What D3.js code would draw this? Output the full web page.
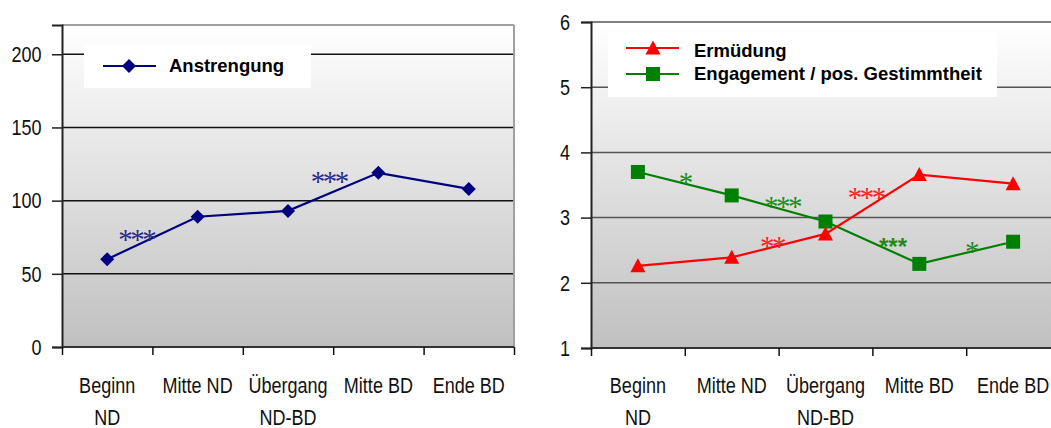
<!DOCTYPE html>
<html>
<head>
<meta charset="utf-8">
<script src="https://cdn.jsdelivr.net/npm/d3@7/dist/d3.min.js"></script>
<style>
  html, body { margin: 0; padding: 0; background: #ffffff; }
  svg { display: block; }
  .tick-label { font-family: "Liberation Sans", Arial, sans-serif; font-size: 22px; fill: #111; }
  .legend-label { font-family: "Liberation Sans", Arial, sans-serif; font-size: 18.5px; font-weight: bold; fill: #000; }
</style>
</head>
<body>
<svg id="chart" width="1051" height="428"></svg>
<script>
// ---------- data ----------
const categories = [["Beginn", "ND"], ["Mitte ND"], ["Übergang", "ND-BD"], ["Mitte BD"], ["Ende BD"]];
const anstrengung = [60, 89, 93, 119, 108];
const ermuedung = [2.26, 2.39, 2.75, 3.66, 3.52];
const engagement = [3.70, 3.34, 2.94, 2.29, 2.63];
const leftTicks = [0, 50, 100, 150, 200];
const rightTicks = [1, 2, 3, 4, 5, 6];
const leftSeriesName = "Anstrengung";
const rightSeriesNames = ["Ermüdung", "Engagement / pos. Gestimmtheit"];
// significance marks: position between categories (index units), value, label, series
const leftSig = [
  { pos: 0.32, value: 76, label: "***" },
  { pos: 2.45, value: 116, label: "***" }
];
const rightSig = [
  { pos: 0.50, value: 3.60, label: "*", series: "eng" },
  { pos: 1.535, value: 3.24, label: "***", series: "eng" },
  { pos: 2.72, value: 2.64, label: "***", series: "eng", sans: true },
  { pos: 3.55, value: 2.55, label: "*", series: "eng" },
  { pos: 1.43, value: 2.62, label: "**", series: "erm" },
  { pos: 2.43, value: 3.37, label: "***", series: "erm" }
];

// ---------- setup ----------
const NARROW = 0.82; // emulate a condensed face
const svg = d3.select("#chart");
const defs = svg.append("defs");
const grad = defs.append("linearGradient").attr("id", "bg").attr("x1", 0).attr("y1", 0).attr("x2", 0).attr("y2", 1);
grad.append("stop").attr("offset", "0%").attr("stop-color", "#ffffff");
grad.append("stop").attr("offset", "100%").attr("stop-color", "#c0c0c0");

function drawPanel(cfg) {
  const g = svg.append("g");
  const x = d3.scaleLinear().domain([-0.5, categories.length - 0.5]).range([cfg.left, cfg.right]);
  const y = d3.scaleLinear().domain(cfg.yDomain).range([cfg.bottom, cfg.top]);

  g.append("rect").attr("x", x(-0.5)).attr("y", y(cfg.yDomain[1]))
    .attr("width", x(categories.length - 0.5) - x(-0.5)).attr("height", y(cfg.yDomain[0]) - y(cfg.yDomain[1]))
    .attr("fill", "url(#bg)");

  g.selectAll(".grid").data(cfg.ticks.filter(t => t > cfg.yDomain[0] && t < cfg.yDomain[1]))
    .enter().append("line")
    .attr("x1", x(-0.5)).attr("x2", x(categories.length - 0.5))
    .attr("y1", d => y(d)).attr("y2", d => y(d))
    .attr("stroke", cfg.gridColor).attr("stroke-width", 1.5);

  g.append("line").attr("x1", x(-0.5)).attr("x2", x(categories.length - 0.5))
    .attr("y1", y(cfg.yDomain[1])).attr("y2", y(cfg.yDomain[1]))
    .attr("stroke", cfg.frameColor).attr("stroke-width", 2);
  g.append("line").attr("x1", x(categories.length - 0.5)).attr("x2", x(categories.length - 0.5))
    .attr("y1", y(cfg.yDomain[1])).attr("y2", y(cfg.yDomain[0]))
    .attr("stroke", cfg.frameColor).attr("stroke-width", 2);

  return { g, x, y };
}

function drawAxes(p, cfg) {
  const { g, x, y } = p;
  const yAxis = d3.axisLeft(y).tickValues(cfg.ticks).tickSize(10).tickFormat(d3.format("d"));
  const ya = g.append("g").attr("transform", `translate(${x(-0.5)},0)`).call(yAxis);
  ya.attr("font-family", null).attr("font-size", null);
  ya.select(".domain").attr("stroke", "#222").attr("stroke-width", 2);
  ya.selectAll(".tick line").attr("stroke", "#222").attr("stroke-width", 1.5);
  ya.selectAll(".tick text").attr("class", "tick-label")
    .attr("x", -cfg.labelGap / NARROW).attr("dy", "0.33em")
    .attr("transform", `scale(${NARROW},1)`);

  const xAxis = d3.axisBottom(x).tickValues(d3.range(categories.length + 1).map(i => i - 0.5)).tickSize(8).tickFormat("");
  const xa = g.append("g").attr("transform", `translate(0,${y(cfg.yDomain[0])})`).call(xAxis);
  xa.select(".domain").attr("stroke", "#333").attr("stroke-width", 2).attr("d", `M${x(-0.5)},0H${x(categories.length - 0.5)}`);
  xa.selectAll(".tick line").attr("stroke", "#111").attr("stroke-width", 1.5);

  const lab = g.append("g");
  categories.forEach((c, i) => {
    c.forEach((line, k) => {
      lab.append("text").attr("class", "tick-label").attr("text-anchor", "middle")
        .attr("transform", `translate(${x(i)},${393 + k * 32}) scale(${NARROW},1)`)
        .text(line);
    });
  });
}

function lineSeries(p, values, color) {
  const line = d3.line().x((d, i) => p.x(i)).y(d => p.y(d));
  p.g.append("path").datum(values).attr("d", line).attr("fill", "none")
    .attr("stroke", color).attr("stroke-width", 2.2);
}

function marker(g, type, cx, cy, color) {
  if (type === "diamond") {
    const r = 7;
    g.append("path").attr("d", `M${cx},${cy - r}L${cx + r},${cy}L${cx},${cy + r}L${cx - r},${cy}Z`).attr("fill", color);
  } else if (type === "square") {
    const s = 14;
    g.append("rect").attr("x", cx - s / 2).attr("y", cy - s / 2).attr("width", s).attr("height", s).attr("fill", color);
  } else if (type === "triangle") {
    const w = 15, h = 13;
    g.append("path").attr("d", `M${cx},${cy - h / 2 - 1}L${cx + w / 2},${cy + h / 2}L${cx - w / 2},${cy + h / 2}Z`).attr("fill", color);
  }
}

function sigMarks(p, data, colorFn) {
  data.forEach(d => {
    const fs = d.sans ? 24 : 29;
    const off = d.sans ? 0.58 * fs : 0.47 * fs;
    p.g.append("text").attr("x", p.x(d.pos)).attr("y", p.y(d.value) + off)
      .attr("text-anchor", "middle")
      .attr("font-family", d.sans ? "'Liberation Sans', Arial, sans-serif" : "'Liberation Serif', 'Times New Roman', serif")
      .attr("font-weight", d.sans ? "bold" : "normal")
      .attr("font-size", fs)
      .attr("letter-spacing", d.sans ? 0 : -2.5)
      .attr("fill", colorFn(d)).text(d.label);
  });
}

// ---------- left panel ----------
const leftCfg = { left: 62, right: 514, top: 25, bottom: 347, yDomain: [0, 220], ticks: leftTicks, gridColor: "#111", frameColor: "#a0a0a0", labelGap: 20.5 };
const L = drawPanel(leftCfg);
L.g.append("rect").attr("x", 84).attr("y", 45).attr("width", 227).attr("height", 43).attr("fill", "#ffffff");
L.g.append("line").attr("x1", 103).attr("x2", 156).attr("y1", 66).attr("y2", 66).attr("stroke", "#000080").attr("stroke-width", 2.2);
marker(L.g, "diamond", 129, 66, "#000080");
L.g.append("text").attr("class", "legend-label").attr("x", 169).attr("y", 72).text(leftSeriesName);

lineSeries(L, anstrengung, "#000080");
anstrengung.forEach((v, i) => marker(L.g, "diamond", L.x(i), L.y(v), "#000080"));
sigMarks(L, leftSig, () => "#2a2a8c");
drawAxes(L, leftCfg);

// ---------- right panel ----------
const rightCfg = { left: 591, right: 1060, top: 22, bottom: 348, yDomain: [1, 6], ticks: rightTicks, gridColor: "#555", frameColor: "#808080", labelGap: 21 };
const R = drawPanel(rightCfg);
R.g.append("rect").attr("x", 608).attr("y", 32).attr("width", 389).attr("height", 65).attr("fill", "#ffffff");
R.g.append("line").attr("x1", 626).attr("x2", 679).attr("y1", 48).attr("y2", 48).attr("stroke", "#ff0000").attr("stroke-width", 2.2);
marker(R.g, "triangle", 653, 48, "#ff0000");
R.g.append("line").attr("x1", 626).attr("x2", 679).attr("y1", 74).attr("y2", 74).attr("stroke", "#008000").attr("stroke-width", 2.2);
marker(R.g, "square", 653, 74, "#008000");
R.g.append("text").attr("class", "legend-label").attr("x", 694).attr("y", 57).text(rightSeriesNames[0]);
R.g.append("text").attr("class", "legend-label").attr("x", 694).attr("y", 80).text(rightSeriesNames[1]);

lineSeries(R, engagement, "#008000");
lineSeries(R, ermuedung, "#ff0000");
engagement.forEach((v, i) => marker(R.g, "square", R.x(i), R.y(v), "#008000"));
ermuedung.forEach((v, i) => marker(R.g, "triangle", R.x(i), R.y(v), "#ff0000"));
sigMarks(R, rightSig, d => d.series === "erm" ? "#ff2020" : "#1e8a1e");
drawAxes(R, rightCfg);
</script>
</body>
</html>
